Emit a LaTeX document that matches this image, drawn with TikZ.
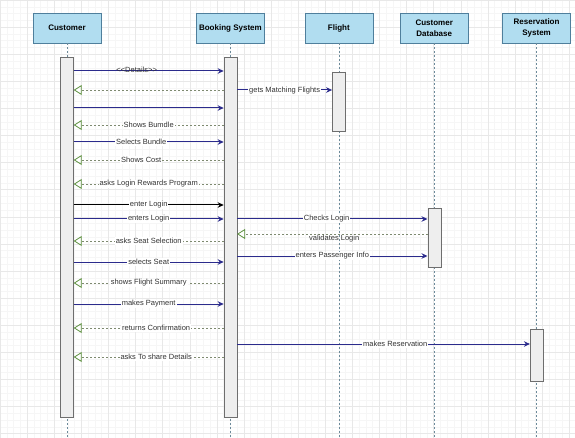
\documentclass[tikz,border=0pt]{standalone}
\usepackage{fontspec}
\setmainfont{Liberation Sans}
\usetikzlibrary{positioning, arrows.meta}

\definecolor{hdrblue}{HTML}{B1DDF0}
\definecolor{hdrline}{HTML}{4F7F9C}
\definecolor{barfill}{HTML}{EEEEEE}
\definecolor{barline}{HTML}{6E6E6E}
\definecolor{lifecol}{HTML}{6C8A9A}
\definecolor{callcol}{HTML}{2B2B8C}
\definecolor{retcol}{HTML}{7E8A70}
\definecolor{rethead}{HTML}{5E9140}
\definecolor{txtcol}{HTML}{333333}

\begin{document}
\begin{tikzpicture}[x=1pt, y=-1pt, node distance=1mm,
    actor/.style={draw=hdrline, fill=hdrblue, minimum width=68pt, minimum height=30pt, inner sep=1pt, align=center, font=\fontsize{8}{10.5}\selectfont\bfseries},
    bar/.style={draw=barline, fill=barfill, minimum width=13pt, inner sep=0pt},
    lifeline/.style={draw=lifecol, line width=0.6pt, dash pattern=on 2pt off 2pt},
    call/.style={draw=callcol, line width=1pt, -{Stealth[length=6pt, width=5.5pt]}},
    reply/.style={draw=retcol, line width=0.8pt, dash pattern=on 2pt off 2pt, -{Triangle[open, length=8pt, width=10pt, color=rethead]}},
    lbl/.style={midway, fill=white, inner sep=1pt, text=txtcol, font=\fontsize{7.5}{9}\selectfont}]

    % background grid
    \useasboundingbox (0,0) rectangle (575,438);
    \draw[black!3.5, step=6.775pt] (0,438) grid (575,0);
    \draw[black!9, step=27.1pt] (0,438) grid (575,0);

    % participants
    \node[actor] (cust) at (67,28) {Customer};
    \node[actor, right=95pt of cust] (book) {Booking System};
    \node[actor, right=40pt of book] (flight) {Flight};
    \node[actor, right=27pt of flight] (custdb) {Customer\\Database};
    \node[actor, right=34pt of custdb] (resv) {Reservation\\System};

    \coordinate (bot) at (0,438);
    \draw[lifeline] (cust.south) -- (cust.south |- bot);
    \draw[lifeline] (book.south) -- (book.south |- bot);
    \draw[lifeline] (flight.south) -- (flight.south |- bot);
    \draw[lifeline] (custdb.south) -- (custdb.south |- bot);
    \draw[lifeline] (resv.south) -- (resv.south |- bot);

    % activations
    \node[bar, minimum height=360pt, below=14pt of cust] (custbar) {};
    \node[bar, minimum height=360pt, below=14pt of book] (bookbar) {};
    \node[bar, minimum height=59pt, below=29pt of flight] (flightbar) {};
    \node[bar, minimum height=59pt, below=165pt of custdb] (dbbar) {};
    \node[bar, minimum height=52pt, below=286pt of resv] (resvbar) {};

    % message rows
    \coordinate (r1) at (0,71);
    \coordinate (r2) at (0,90);
    \coordinate (r3) at (0,108);
    \coordinate (r4) at (0,125);
    \coordinate (r5) at (0,142);
    \coordinate (r6) at (0,160);
    \coordinate (r7) at (0,184);
    \coordinate (r8) at (0,205);
    \coordinate (r9) at (0,219);
    \coordinate (r10) at (0,234);
    \coordinate (r11) at (0,241);
    \coordinate (r12) at (0,256);
    \coordinate (r13) at (0,262);
    \coordinate (r14) at (0,283);
    \coordinate (r15) at (0,304);
    \coordinate (r16) at (0,328);
    \coordinate (r17) at (0,344);
    \coordinate (r18) at (0,357);

    % customer <-> booking system
    \draw[call] (custbar.east |- r1) -- (bookbar.west |- r1) node[lbl, fill=none, pos=0.42, above=-3pt] {<{}<Details>{}>};
    \draw[reply] (bookbar.west |- r2) -- (custbar.east |- r2);
    \draw[call] (custbar.east |- r3) -- (bookbar.west |- r3);
    \draw[reply] (bookbar.west |- r4) -- (custbar.east |- r4) node[lbl] {Shows Bumdle};
    \draw[call] (custbar.east |- r5) -- (bookbar.west |- r5) node[lbl, pos=0.45] {Selects Bundle};
    \draw[reply] (bookbar.west |- r6) -- (custbar.east |- r6) node[lbl, pos=0.55] {Shows Cost};
    \draw[reply] (bookbar.west |- r7) -- (custbar.east |- r7) node[lbl] {asks Login Rewards Program};
    \draw[call, draw=black] (custbar.east |- r8) -- (bookbar.west |- r8) node[lbl] {enter Login};
    \draw[call] (custbar.east |- r9) -- (bookbar.west |- r9) node[lbl] {enters Login};
    \draw[reply] (bookbar.west |- r11) -- (custbar.east |- r11) node[lbl] {asks Seat Selection};
    \draw[call] (custbar.east |- r13) -- (bookbar.west |- r13) node[lbl] {selects Seat};
    \draw[reply] (bookbar.west |- r14) -- (custbar.east |- r14) node[lbl] {shows Flight Summary};
    \draw[call] (custbar.east |- r15) -- (bookbar.west |- r15) node[lbl] {makes Payment};
    \draw[reply] (bookbar.west |- r16) -- (custbar.east |- r16) node[lbl, pos=0.45] {returns Confirmation};
    \draw[reply] (bookbar.west |- r18) -- (custbar.east |- r18) node[lbl, pos=0.45] {asks To share Details};

    % booking system <-> back end
    \draw[call] (bookbar.east |- r2) -- (flightbar.west |- r2) node[lbl, yshift=-1pt] {gets Matching Flights};
    \draw[call] (bookbar.east |- r9) -- (dbbar.west |- r9) node[lbl, pos=0.47] {Checks Login};
    \draw[reply] (dbbar.west |- r10) -- (bookbar.east |- r10) node[lbl, fill=none, pos=0.49, below=0pt] {validates Login};
    \draw[call] (bookbar.east |- r12) -- (dbbar.west |- r12) node[lbl] {enters Passenger Info};
    \draw[call] (bookbar.east |- r17) -- (resvbar.west |- r17) node[lbl, pos=0.54] {makes Reservation};

\end{tikzpicture}
\end{document}
